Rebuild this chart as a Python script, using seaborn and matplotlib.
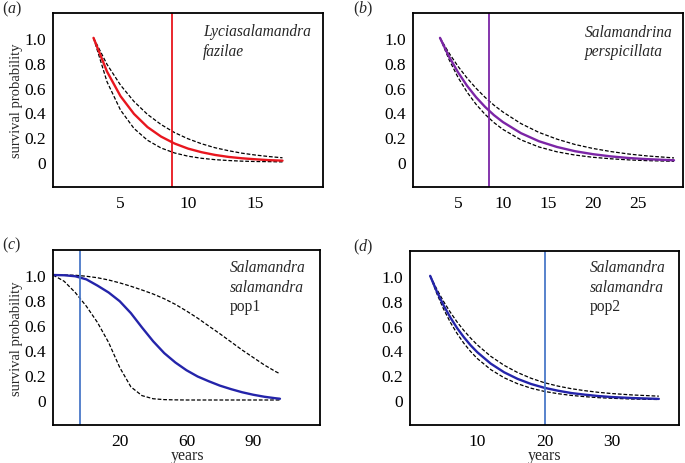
import numpy as np
import pandas as pd
import matplotlib
matplotlib.use("Agg")
import matplotlib.pyplot as plt
import seaborn as sns

# ---------------- data ----------------
# (a) Lyciasalamandra fazilae
a_x = [3, 4, 5, 6, 7, 8, 9, 10, 11, 12, 13, 14, 15, 16, 17]
a_mid = [1.0, 0.729, 0.531, 0.388, 0.282, 0.206, 0.150, 0.109, 0.080, 0.058, 0.042, 0.031, 0.023, 0.016, 0.012]
a_up = [1.0, 0.787, 0.620, 0.488, 0.384, 0.303, 0.238, 0.188, 0.148, 0.116, 0.092, 0.072, 0.057, 0.045, 0.035]
a_lo = [1.0, 0.647, 0.419, 0.271, 0.176, 0.114, 0.074, 0.048, 0.031, 0.020, 0.013, 0.008, 0.005, 0.004, 0.002]
a_vline = 8.8

# (b) Salamandrina perspicillata
b_x = [3, 4, 5, 6, 7, 8, 9, 10, 12, 14, 16, 18, 20, 22, 24, 26, 29]
b_mid = [1.0, 0.850, 0.723, 0.615, 0.523, 0.445, 0.378, 0.322, 0.233, 0.168, 0.122, 0.088, 0.064, 0.046, 0.033, 0.024, 0.015]
b_up = [1.0, 0.878, 0.771, 0.677, 0.595, 0.522, 0.458, 0.403, 0.310, 0.239, 0.185, 0.142, 0.110, 0.085, 0.065, 0.050, 0.034]
b_lo = [1.0, 0.826, 0.682, 0.564, 0.466, 0.385, 0.318, 0.263, 0.179, 0.122, 0.083, 0.057, 0.039, 0.027, 0.018, 0.012, 0.007]
b_vline = 8.5

# (c) Salamandra salamandra pop1
c_x = [0, 5, 10, 15, 20, 25, 30, 35, 40, 45, 50, 55, 60, 65, 70, 75, 80, 85, 90, 95, 100, 102]
c_mid = [1.0, 0.998, 0.99, 0.965, 0.915, 0.86, 0.79, 0.695, 0.58, 0.47, 0.375, 0.30, 0.238, 0.188, 0.15, 0.115, 0.087, 0.062, 0.042, 0.026, 0.014, 0.01]
c_up = [1.0, 1.0, 0.998, 0.99, 0.978, 0.96, 0.937, 0.91, 0.88, 0.848, 0.81, 0.765, 0.712, 0.655, 0.592, 0.53, 0.465, 0.40, 0.34, 0.28, 0.228, 0.21]
c_lo = [1.0, 0.95, 0.86, 0.75, 0.62, 0.46, 0.26, 0.105, 0.035, 0.01, 0.003, 0.001, 0.0, 0.0, 0.0, 0.0, 0.0, 0.0, 0.0, 0.0, 0.0, 0.0]
c_vline = 12

# (d) Salamandra salamandra pop2
d_x = [3, 4, 5, 6, 7, 8, 9, 10, 12, 14, 16, 18, 20, 22, 24, 26, 28, 30, 33, 37]
d_mid = [1.0, 0.873, 0.762, 0.665, 0.580, 0.507, 0.442, 0.386, 0.294, 0.224, 0.171, 0.130, 0.099, 0.076, 0.057, 0.044, 0.033, 0.025, 0.017, 0.010]
d_up = [1.0, 0.891, 0.793, 0.707, 0.629, 0.561, 0.500, 0.445, 0.353, 0.280, 0.222, 0.176, 0.140, 0.113, 0.092, 0.076, 0.063, 0.053, 0.042, 0.032]
d_lo = [1.0, 0.856, 0.732, 0.626, 0.536, 0.458, 0.392, 0.335, 0.246, 0.180, 0.132, 0.096, 0.070, 0.052, 0.038, 0.028, 0.020, 0.015, 0.009, 0.005]
d_vline = 20

y_ticks = [-0.2, 0, 0.2, 0.4, 0.6, 0.8, 1.0, 1.2]
y_ticklabels = ["", "0", "0.2", "0.4", "0.6", "0.8", "1.0", ""]

a_xticks = [0, 5, 10, 15, 20]
a_xticklabels = ["", "5", "10", "15", ""]
b_xticks = [0, 5, 10, 15, 20, 25, 30]
b_xticklabels = ["", "5", "10", "15", "20", "25", ""]
c_xticks = [0, 30, 60, 90, 120]
c_xticklabels = ["", "20", "60", "90", ""]
d_xticks = [0, 10, 20, 30, 40]
d_xticklabels = ["", "10", "20", "30", ""]

panel_letters = ["a", "b", "c", "d"]
species = [
    [("Lyciasalamandra", True), ("fazilae", True)],
    [("Salamandrina", True), ("perspicillata", True)],
    [("Salamandra", True), ("salamandra", True), ("pop1", False)],
    [("Salamandra", True), ("salamandra", True), ("pop2", False)],
]

# ---------------- style ----------------
sns.set_style("white")
plt.rcParams["font.family"] = ["Liberation Serif", "DejaVu Serif"]
plt.rcParams["mathtext.fontset"] = "custom"
plt.rcParams["mathtext.rm"] = "Liberation Serif"
plt.rcParams["mathtext.it"] = "Liberation Serif:italic"
plt.rcParams["font.size"] = 11.5

W, H = 685, 464
fig = plt.figure(figsize=(W / 100, H / 100), dpi=100)


def add_axes_px(left, right, top, bottom):
    return fig.add_axes([left / W, 1 - bottom / H, (right - left) / W, (bottom - top) / H])


boxes = [(53, 323, 14, 188), (413, 683, 14, 188), (53, 320, 251, 426), (410, 679, 252, 426)]
xs = [a_x, b_x, c_x, d_x]
mids = [a_mid, b_mid, c_mid, d_mid]
ups = [a_up, b_up, c_up, d_up]
los = [a_lo, b_lo, c_lo, d_lo]
vlines = [a_vline, b_vline, c_vline, d_vline]
xlims = [(0, 20), (0, 30), (0, 120), (0, 40)]
xticks = [a_xticks, b_xticks, c_xticks, d_xticks]
xticklabels = [a_xticklabels, b_xticklabels, c_xticklabels, d_xticklabels]
main_colors = ["#e8161e", "#7b25a6", "#2424aa", "#2424aa"]
vline_colors = ["#e8161e", "#7b25a6", "#4a78c8", "#4a78c8"]

dash = (0, (3.0, 1.5))

for i in range(4):
    ax = add_axes_px(*boxes[i])
    df = pd.DataFrame({"x": xs[i], "mid": mids[i], "up": ups[i], "lo": los[i]})
    sns.lineplot(data=df, x="x", y="up", ax=ax, color="black", linewidth=0.9, linestyle=dash)
    sns.lineplot(data=df, x="x", y="lo", ax=ax, color="black", linewidth=0.9, linestyle=dash)
    sns.lineplot(data=df, x="x", y="mid", ax=ax, color=main_colors[i], linewidth=1.7)
    ax.axvline(vlines[i], color=vline_colors[i], linewidth=1.3)

    ax.set_xlim(*xlims[i])
    ax.set_ylim(-0.2, 1.2)
    ax.set_xticks(xticks[i])
    ax.set_xticklabels(xticklabels[i])
    ax.set_yticks(y_ticks)
    ax.set_yticklabels(y_ticklabels)
    ax.tick_params(axis="both", direction="out", length=4, width=1.1, color="black",
                   labelsize=12.5, labelcolor="black")
    ax.tick_params(axis="y", pad=1)
    ax.tick_params(axis="x", pad=1.5)
    for s in ax.spines.values():
        s.set_visible(True)
        s.set_color("black")
        s.set_linewidth(1.3)
    ax.set_ylabel("")
    ax.set_xlabel("")
    if i in (0, 2):
        ax.set_ylabel("survival probability", fontsize=10.5, labelpad=1)

    # species labels
    tx = [203, 585, 230, 590][i]
    ty0 = [32, 33, 268, 268][i]
    for j, (txt, ital) in enumerate(species[i]):
        fig.text(tx / W, 1 - (ty0 + 19.5 * j) / H, txt, fontsize=11.2,
                 fontstyle="italic" if ital else "normal", ha="left", va="center")

# x-axis titles for bottom row
for cx in (188, 545):
    fig.text(cx / W, 1 - 460.5 / H, "years", fontsize=11.5, ha="center", va="baseline")

# panel letters
letter_pos = [(2, 9), (353, 9), (2, 245), (353, 247)]
for k, (px, py) in enumerate(letter_pos):
    fig.text(px / W, 1 - py / H, "($\\mathit{%s}$)" % panel_letters[k], fontsize=11.5,
             ha="left", va="center")

fig.savefig("out.png", dpi=100)
